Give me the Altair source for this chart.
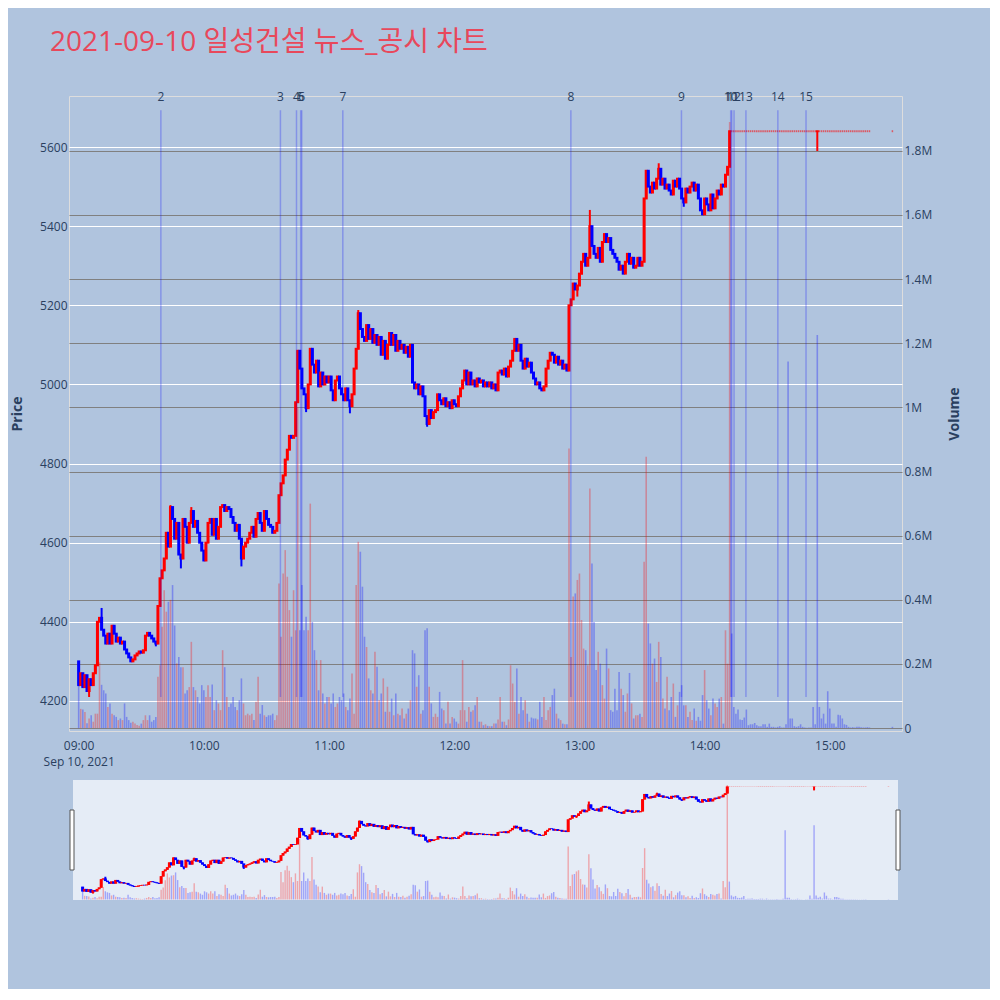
import altair as alt
import pandas as pd

TITLE = "2021-09-10 일성건설 뉴스_공시 차트"
FONT = "Open Sans, Noto Sans CJK KR, sans-serif"
TXT = "#2a3f5f"

# ---------------- 1-minute candles (close per minute, open of first candle) ----------------
first_open = 4300
close_0900 = [4240, 4270, 4235, 4265, 4225, 4255, 4240, 4270, 4290, 4400,
              4410, 4380, 4365, 4345, 4370, 4345, 4390, 4370, 4350, 4360,
              4345, 4350, 4330, 4320, 4310, 4300, 4305, 4315, 4320, 4325,
              4322, 4328, 4365, 4372, 4365, 4358, 4350, 4345, 4440, 4510,
              4530, 4560, 4625, 4590, 4690, 4660, 4610, 4650, 4570, 4560,
              4660, 4640, 4600, 4650, 4680, 4640, 4655, 4625, 4600, 4580]
close_1000 = [4555, 4600, 4650, 4660, 4620, 4660, 4610, 4640, 4690, 4695,
              4680, 4690, 4685, 4665, 4650, 4630, 4645, 4610, 4560, 4590,
              4600, 4610, 4625, 4640, 4615, 4660, 4675, 4650, 4630, 4680,
              4660, 4645, 4640, 4625, 4630, 4650, 4720, 4750, 4770, 4810,
              4835, 4870, 4865, 4870, 4955, 5085, 5040, 4990, 4975, 4940,
              5000, 5090, 5050, 5030, 5060, 4995, 5030, 5000, 5020, 5005]
close_1100 = [5020, 4985, 4960, 5010, 5020, 4990, 4975, 4960, 4990, 4960,
              4945, 4975, 5040, 5090, 5180, 5140, 5120, 5110, 5150, 5115,
              5140, 5105, 5125, 5100, 5120, 5075, 5110, 5065, 5100, 5130,
              5100, 5125, 5085, 5110, 5090, 5100, 5080, 5095, 5070, 5100,
              5005, 4990, 5000, 4975, 4995, 4970, 4920, 4900, 4935, 4915,
              4930, 4935, 4975, 4960, 4950, 4965, 4945, 4955, 4940, 4960]
close_1200 = [4950, 4945, 4970, 4990, 5010, 5035, 5000, 5030, 5000, 5010,
              4995, 5015, 5005, 5010, 4995, 5005, 4995, 5005, 4990, 5000,
              4985, 5030, 5035, 5025, 5040, 5020, 5045, 5060, 5085, 5115,
              5085, 5100, 5060, 5040, 5065, 5045, 5055, 5030, 5015, 5000,
              5005, 4990, 4985, 4995, 5040, 5060, 5080, 5075, 5055, 5070,
              5050, 5060, 5040, 5050, 5035, 5200, 5215, 5255, 5240, 5250]
close_1300 = [5280, 5310, 5330, 5300, 5320, 5400, 5350, 5330, 5320, 5345,
              5310, 5360, 5380, 5360, 5370, 5340, 5330, 5320, 5310, 5290,
              5300, 5280, 5310, 5330, 5305, 5320, 5295, 5300, 5320, 5300,
              5310, 5470, 5540, 5500, 5485, 5510, 5495, 5520, 5545, 5505,
              5520, 5495, 5505, 5490, 5480, 5515, 5500, 5520, 5495, 5470,
              5460, 5495, 5485, 5500, 5510, 5490, 5505, 5470, 5440, 5430]
close_1400 = [5470, 5455, 5440, 5480, 5445, 5470, 5490, 5480, 5505, 5500,
              5530, 5550, 5640, 5640, 5640, 5640, 5640, 5640, 5640, 5640,
              5640, 5640, 5640, 5640, 5640, 5640, 5640, 5640, 5640, 5640,
              5640, 5640, 5640, 5640, 5640, 5640, 5640, 5640, 5640, 5640,
              5640, 5640, 5640, 5640, 5640, 5640, 5640, 5640, 5640, 5640,
              5640, 5640, 5640, 5640, 5640, 5640, 5640, 5640, 5640, 5640]
close_1500 = [5640, 5640, 5640, 5640, 5640, 5640, 5640, 5640, 5640, 5640,
              5640, 5640, 5640, 5640, 5640, 5640, 5640, 5640, 5640, 5640]
close_1530 = [5640]

# wick extremes that stick out of the bodies
wick_minute = [5, 11, 37, 44, 49, 54, 78, 109, 130, 134, 167, 239, 245, 278, 290, 354]
wick_price = [4210, 4435, 4338, 4695, 4535, 4690, 4540, 4930, 4927, 5188, 4893, 5222, 5441, 5559, 5449, 5590]

# ---------------- volume per minute (thousand shares) ----------------
vol_0900 = [150, 60, 58, 50, 15, 30, 40, 20, 45, 45,
            205, 135, 118, 108, 66, 77, 45, 40, 35, 25,
            30, 25, 77, 35, 25, 17, 20, 14, 10, 7,
            14, 25, 40, 25, 40, 20, 25, 35, 160, 196,
            316, 430, 363, 394, 400, 446, 320, 202, 222, 190,
            190, 108, 118, 128, 269, 128, 118, 97, 77, 134]
vol_1000 = [118, 97, 134, 97, 136, 56, 87, 77, 56, 243,
            190, 97, 66, 77, 97, 66, 56, 87, 155, 77,
            40, 45, 40, 45, 25, 82, 160, 45, 72, 40,
            35, 40, 40, 45, 25, 40, 451, 285, 482, 555,
            472, 368, 285, 430, 305, 1000, 305, 446, 305, 347,
            305, 700, 331, 243, 212, 118, 212, 108, 77, 97]
vol_1100 = [97, 77, 108, 66, 77, 97, 87, 108, 66, 56,
            92, 170, 45, 446, 581, 550, 441, 285, 253, 155,
            118, 108, 238, 191, 87, 108, 155, 51, 129, 51,
            92, 40, 108, 45, 40, 61, 30, 45, 61, 87,
            243, 233, 129, 165, 45, 56, 305, 311, 129, 77,
            35, 45, 35, 113, 61, 56, 14, 82, 14, 35]
vol_1200 = [30, 20, 14, 56, 212, 56, 20, 66, 51, 56,
            71, 97, 20, 20, 9, 12, 7, 6, 6, 14,
            14, 27, 97, 20, 20, 9, 27, 196, 139, 82,
            186, 45, 97, 56, 87, 45, 20, 33, 30, 30,
            27, 82, 35, 97, 25, 56, 66, 103, 123, 45,
            30, 25, 14, 12, 12, 872, 222, 410, 420, 462]
vol_1300 = [482, 337, 248, 243, 196, 747, 513, 331, 181, 238,
            201, 134, 92, 248, 186, 56, 51, 123, 56, 175,
            123, 103, 51, 108, 172, 77, 30, 40, 40, 45,
            35, 519, 846, 326, 264, 201, 217, 144, 269, 222,
            92, 61, 160, 56, 97, 139, 35, 71, 113, 134,
            71, 71, 35, 51, 25, 61, 23, 35, 23, 103]
vol_1400 = [181, 87, 61, 40, 92, 77, 66, 92, 97, 14,
            305, 201, 1890, 295, 66, 45, 58, 27, 25, 33,
            58, 9, 12, 12, 16, 9, 6, 6, 12, 12,
            4, 14, 4, 4, 2, 4, 6, 2, 2, 12,
            1143, 30, 30, 6, 4, 6, 12, 4, 2, 1,
            2, 2, 66, 12, 1226, 66, 30, 45, 14, 115]
vol_1500 = [61, 14, 14, 4, 42, 40, 30, 12, 10, 4,
            2, 3, 2, 4, 4, 3, 2, 2, 3, 2]
vol_1530 = [4]

# ---------------- news / disclosure markers ----------------
news_label = ["2", "3", "4", "5", "6", "7", "8", "9", "10", "11", "12", "13", "14", "15"]
news_time = ["09:39:24", "10:36:42", "10:44:24", "10:46:24", "10:46:54", "11:06:36",
             "12:55:54", "13:48:54", "14:12:30", "14:13:00", "14:14:06", "14:19:48",
             "14:35:06", "14:48:36"]

# ---------------- build tables ----------------
minutes = list(range(380)) + [390]
closes = close_0900 + close_1000 + close_1100 + close_1200 + close_1300 + close_1400 + close_1500 + close_1530
volumes = vol_0900 + vol_1000 + vol_1100 + vol_1200 + vol_1300 + vol_1400 + vol_1500 + vol_1530
wick = dict(zip(wick_minute, wick_price))

rows = []
prev = first_open
t0 = pd.Timestamp("2021-09-10 09:00:00")
for m, c, v in zip(minutes, closes, volumes):
    o = prev
    hi, lo = max(o, c), min(o, c)
    if m in wick:
        hi, lo = max(hi, wick[m]), min(lo, wick[m])
    rows.append({
        "t": (t0 + pd.Timedelta(minutes=m)).strftime("%Y-%m-%dT%H:%M:%S"),
        "o": o, "c": c, "high": hi, "low": lo,
        "blo": min(o, c) - 2.5, "bhi": max(o, c) + 2.5,
        "vol": v * 1000,
    })
    prev = c
df = pd.DataFrame(rows)
news_df = pd.DataFrame({"t": ["2021-09-10T" + s for s in news_time], "label": news_label})


def dt(h, mi=0, s=0):
    return alt.DateTime(year=2021, month=9, date=10, hours=h, minutes=mi, seconds=s)


x_domain = [dt(8, 57, 46), dt(15, 32, 12)]
x_axis = alt.Axis(
    values=[dt(h) for h in range(9, 16)],
    labelExpr="hours(datum.value) == 9 ? ['09:00', 'Sep 10, 2021'] : timeFormat(datum.value, '%H:%M')",
    grid=False, ticks=False, tickSize=0, domain=False, title=None,
    labelColor=TXT, labelFontSize=12, labelPadding=9, labelLineHeight=16,
    labelFlush=False, labelOverlap=False,
)
X = alt.X("t:T", scale=alt.Scale(domain=x_domain, nice=False), axis=x_axis)

p_scale = alt.Scale(domain=[4124, 5729], nice=False, zero=False)
v_scale = alt.Scale(domain=[-9000, 1971000], nice=False, zero=False)

p_axis = alt.Axis(
    orient="left", values=list(range(4200, 5601, 200)), format="d",
    grid=True, gridColor="#ffffff", gridWidth=1, ticks=False, tickSize=0, domain=False,
    labelColor=TXT, labelFontSize=12, labelPadding=2,
    title="Price", titleColor=TXT, titleFontSize=14, titleFontWeight="bold", titlePadding=15,
)
v_axis = alt.Axis(
    orient="right", values=[i * 200000 for i in range(10)],
    labelExpr="datum.value == 0 ? '0' : format(datum.value / 1e6, '.1~f') + 'M'",
    grid=True, gridColor="#808080", gridWidth=1, ticks=False, tickSize=0, domain=False,
    labelColor=TXT, labelFontSize=12, labelPadding=2,
    title="Volume", titleColor=TXT, titleFontSize=14, titleFontWeight="bold",
    titlePadding=30, titleAngle=270,
)

candle_color = alt.condition("datum.c >= datum.o", alt.value("#ff0000"), alt.value("#0000ff"))
vol_color = alt.condition("datum.c > datum.o", alt.value("#ff0000"), alt.value("#0000ff"))
is_flat = "datum.o == datum.c && datum.high == datum.low"
flat_op = alt.condition(is_flat, alt.value(0.55), alt.value(1.0))
flat_size = alt.condition(is_flat, alt.value(1.5), alt.value(3))

base = alt.Chart(df)

# ---------------- main panel ----------------
volume = base.mark_bar(size=1.6, opacity=0.3).encode(
    x=X, y=alt.Y("vol:Q", scale=v_scale, axis=v_axis), color=vol_color)
wicks = base.mark_rule(strokeWidth=2).encode(
    x=X, y=alt.Y("low:Q", scale=p_scale, axis=p_axis), y2="high:Q", color=candle_color)
bodies = base.mark_bar().encode(
    x=X, y="blo:Q", y2="bhi:Q", color=candle_color, opacity=flat_op, size=flat_size)
news_rules = alt.Chart(news_df).mark_rule(color="#0000ff", opacity=0.25, strokeWidth=1.5).encode(
    x=X, y=alt.datum(4210), y2=alt.datum(5693))
news_text = alt.Chart(news_df).mark_text(fontSize=12, color=TXT, baseline="middle").encode(
    x=X, y=alt.datum(5726), text="label:N")

price = alt.layer(wicks, bodies, news_rules, news_text)
main = alt.layer(volume, price).resolve_scale(y="independent").properties(width=833, height=635)

# ---------------- range slider ----------------
XS = alt.X("t:T", scale=alt.Scale(domain=x_domain, nice=False, range=[4, 829]), axis=None)
one = alt.Chart(pd.DataFrame({"k": [0]}))
slider_bg = one.mark_rect(color="#e5ecf6").encode(
    x=alt.value(4), x2=alt.value(829), y=alt.value(0), y2=alt.value(120))
s_vol = base.mark_bar(size=1.4, opacity=0.3).encode(
    x=XS, y=alt.Y("vol:Q", scale=v_scale, axis=None), color=vol_color)
s_wick = base.mark_rule(strokeWidth=2).encode(
    x=XS, y=alt.Y("low:Q", scale=p_scale, axis=None), y2="high:Q", color=candle_color)
s_body = base.mark_bar().encode(
    x=XS, y="blo:Q", y2="bhi:Q", color=candle_color, opacity=flat_op, size=flat_size)
h_left = one.mark_rect(fill="#ffffff", stroke="#555555", strokeWidth=1).encode(
    x=alt.value(1), x2=alt.value(5), y=alt.value(30), y2=alt.value(90))
h_right = one.mark_rect(fill="#ffffff", stroke="#555555", strokeWidth=1).encode(
    x=alt.value(827), x2=alt.value(831), y=alt.value(30), y2=alt.value(90))

slider = alt.layer(
    slider_bg, s_vol, alt.layer(s_wick, s_body), h_left, h_right
).resolve_scale(y="independent").properties(
    width=833, height=120,
    view=alt.ViewBackground(fill="transparent", stroke="transparent"),
)

chart = alt.vconcat(main, slider, spacing=49, bounds="flush").properties(
    title=alt.TitleParams(TITLE, anchor="start", fontSize=28, font=FONT, color="#e8485b",
                          fontWeight="normal", offset=34, dx=40),
    background="#b0c4de",
    padding={"left": 2, "top": 20, "right": 27, "bottom": 88},
).configure_view(
    fill="#e5ecf6", stroke="transparent"
).configure_axis(
    ticks=False, tickSize=0, labelPadding=2, domain=False
).configure(font=FONT)

chart.save("out.html", embed_options={"renderer": "svg", "actions": False})
